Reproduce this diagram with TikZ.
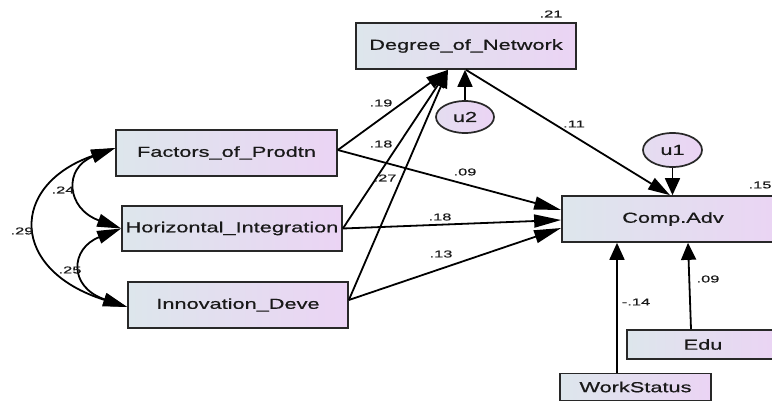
\documentclass[tikz,border=0pt]{standalone}
\usepackage{fontspec}
\usetikzlibrary{arrows.meta,shapes.geometric}
\newfontfamily\boxfont[FakeStretch=1.5,FakeBold=0.6]{Liberation Sans}
\newfontfamily\labfont[FakeStretch=1.65,FakeBold=0.4]{Liberation Sans}
\definecolor{boxL}{RGB}{221,230,236}
\definecolor{boxR}{RGB}{235,212,244}
\definecolor{edgec}{RGB}{40,40,40}
\definecolor{txtc}{RGB}{25,25,25}
\begin{document}
\begin{tikzpicture}[x=1pt,y=-1pt,
  varbox/.style={draw=edgec, line width=1.7pt, rectangle, left color=boxL, right color=boxR, inner sep=0pt, text=txtc, font=\boxfont\fontsize{14.5}{16}\selectfont},
  errcirc/.style={draw=edgec, line width=1.7pt, ellipse, left color=boxL!50!boxR, right color=boxR, inner sep=0pt, text=txtc, font=\boxfont\fontsize{14.5}{16}\selectfont},
  coef/.style={inner sep=0pt, text=txtc, font=\labfont\fontsize{10}{12}\selectfont},
  pth/.style={line width=1.8pt, draw=black},
  tipH/.style={-{Triangle[length=27pt,width=13pt]}},
  tipD/.style={-{Triangle[length=22pt,width=13pt]}},
  tipS/.style={-{Triangle[length=18pt,width=13pt]}},
  tipV/.style={-{Triangle[length=17pt,width=15pt]}},
  cov/.style={{Triangle[length=24pt,width=13pt]}-{Triangle[length=24pt,width=13pt]}}
]
\path[fill=white, use as bounding box] (0,0) rectangle (772,402);

% observed variables
\node[varbox, minimum width=220pt, minimum height=46pt] (DN) at (466,46) {Degree\_of\_Network};
\node[varbox, minimum width=221pt, minimum height=46pt] (FP) at (226.5,153) {Factors\_of\_Prodtn};
\node[varbox, minimum width=220pt, minimum height=45pt] (HI) at (232,228.5) {Horizontal\_Integration};
\node[varbox, minimum width=220pt, minimum height=46pt] (ID) at (238,305) {Innovation\_Deve};
\node[varbox, minimum width=222pt, minimum height=46pt] (CA) at (673,219) {Comp.Adv};
\node[varbox, minimum width=152pt, minimum height=29pt] (Edu) at (703,344.5) {Edu};
\node[varbox, minimum width=151pt, minimum height=27pt] (WS) at (635.5,387) {WorkStatus};

% error terms
\node[errcirc, minimum width=58pt, minimum height=32pt] (u2) at (465,117) {u2};
\node[errcirc, minimum width=59pt, minimum height=34pt] (u1) at (672.5,150) {u1};

% paths to Degree_of_Network
\draw[pth, tipD] ([yshift=3pt]FP.east) -- ([xshift=-18pt]DN.south);
\draw[pth, tipS] (HI.east) -- ([xshift=-18pt]DN.south);
\draw[pth, tipS] ([yshift=5pt]ID.east) -- ([xshift=-18pt]DN.south);
\draw[pth, tipV] (u2) -- (u2 |- DN.south);

% paths to Comp.Adv
\draw[pth, tipD] (DN.south) -- ([xshift=-3pt]CA.north);
\draw[pth, tipV] (u1) -- (u1 |- CA.north);
\draw[pth, tipH] ([yshift=3pt]FP.east) -- ([yshift=9pt]CA.west);
\draw[pth, tipH] (HI.east) -- ([yshift=-1pt]CA.west);
\draw[pth, tipH] ([yshift=5pt]ID.east) -- ([yshift=-9pt]CA.west);
\draw[pth, tipV] ([xshift=-18.5pt]WS.north) -- ([xshift=-56pt]CA.south);
\draw[pth, tipV] ([xshift=-12pt]Edu.north) -- ([xshift=15pt]CA.south);

% covariances
\draw[pth, cov] ([yshift=5pt]FP.west) .. controls +(-52,20) and +(-55,-20) .. (HI.west);
\draw[pth, cov] (HI.west) .. controls +(-51,20) and +(-59,-20) .. ([yshift=-2pt]ID.west);
\draw[pth, cov] ([yshift=5pt]FP.west) .. controls +(-106,37) and +(-118,-37) .. ([yshift=-2pt]ID.west);

% coefficients
\node[coef] (l21) at (551,14) {.21};
\node[coef] (l15) at (760,185) {.15};
\node[coef] (l19) at (381,103) {.19};
\node[coef] (l18a) at (381,144) {.18};
\node[coef] (l27) at (385,178) {.27};
\node[coef] (l11) at (574,124) {.11};
\node[coef] (l09a) at (465,172) {.09};
\node[coef] (l18b) at (440,217) {.18};
\node[coef] (l13) at (441,254) {.13};
\node[coef] (l14) at (636,302) {-.14};
\node[coef] (l09b) at (708,279) {.09};
\node[coef] (l24) at (63,190) {.24};
\node[coef] (l25) at (70,270) {.25};
\node[coef] (l29) at (22,231) {.29};
\end{tikzpicture}
\end{document}
